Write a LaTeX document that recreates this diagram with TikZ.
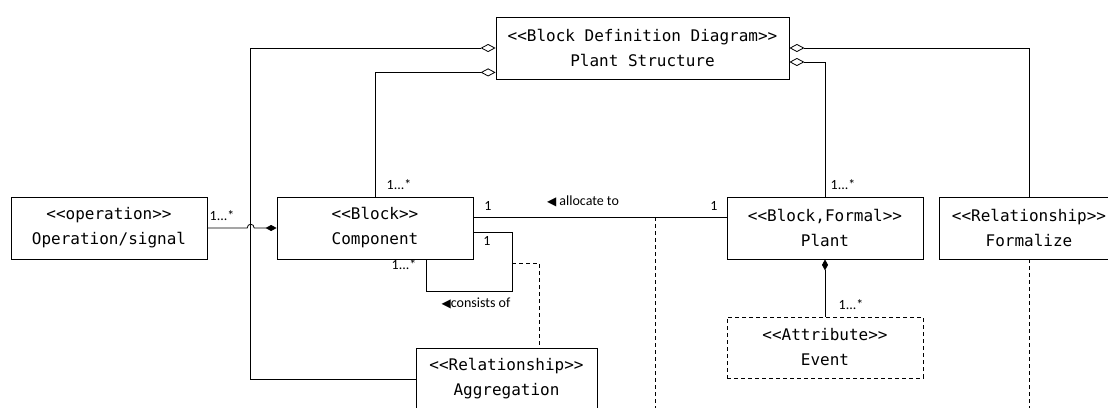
\documentclass[tikz,border=0pt]{standalone}
\usepackage{fontspec}
\setsansfont{Carlito}
\setmonofont{DejaVu Sans Mono}
\newfontfamily\symfont{DejaVu Sans}
\usetikzlibrary{arrows.meta,calc,positioning}

\begin{document}
\begin{tikzpicture}[x=1pt, y=-1pt,
    block/.style={draw, line width=0.8pt, minimum width=196pt, minimum height=62pt, align=center, inner sep=0pt, font=\ttfamily\fontsize{16}{25}\selectfont},
    attrbox/.style={block, dash pattern=on 4pt off 3pt},
    link/.style={line width=0.8pt},
    agg/.style={link, {Diamond[open,length=15pt,width=8pt]}-},
    compo/.style={link, -{Diamond[length=11pt,width=6pt]}},
    trace/.style={link, dash pattern=on 4pt off 3pt},
    mult/.style={inner sep=0pt, font=\sffamily\fontsize{14}{14}\selectfont}
]
\useasboundingbox (0,0) rectangle (1108,407);
\clip (0,0) rectangle (1108,407);

\node[block, minimum width=293pt] (plantstruct) at (642.5,48) {<<Block Definition Diagram>>\\Plant Structure};
\node[block] (operation) at (109,228) {<<operation>>\\Operation/signal};
\node[block] (component) at (375,228) {<<Block>>\\Component};
\node[block] (plant) at (825,228) {<<Block,Formal>>\\Plant};
\node[block, minimum width=180pt] (formalize) at (1029,228) {<<Relationship>>\\Formalize};
\node[attrbox, minimum height=61pt] (event) at (825,347.5) {<<Attribute>>\\Event};
\node[block, minimum width=181pt] (aggregation) at (506.5,379) {<<Relationship>>\\Aggregation};

% Aggregation Links
\coordinate (leftbend) at (250.7,379);
\draw[agg] (plantstruct.west) -| (leftbend) -- (aggregation.west);
\draw[agg] ([yshift=7pt]plantstruct.south west) -| (component.north);
\draw[agg] (plantstruct.east) -| (formalize.north);
\draw[agg] ([yshift=-14pt]plantstruct.east) -| (plant.north);

% Composition Links
\coordinate (hopin) at ($(leftbend |- operation.east)+(-3.5,0)$);
\coordinate (hopout) at ($(leftbend |- operation.east)+(3.5,0)$);
\draw[compo] (operation.east) -- (hopin) .. controls +(0,-5) and +(0,-5) .. (hopout) -- (component.west);
\draw[compo] (event.north) -- (plant.south);

% Allocate
\draw[link] ([yshift=11pt]component.east) -- ([yshift=11pt]plant.west);
\coordinate (alloctop) at (655,217);
\coordinate (allocbot) at (655,410);
\draw[trace] (alloctop) -- (allocbot);

% Consists of
\coordinate (loopcorner) at (512,291);
\draw[link] ([yshift=-4pt]component.east) -| (loopcorner) -| ([xshift=51pt]component.south);
\coordinate (loopside) at (512,263);
\draw[trace] (loopside) -| ([xshift=32.5pt]aggregation.north);

% Formalize
\draw[trace] (formalize.south) -- (formalize.south |- allocbot);

% Multiplicities
\node[mult] (mop) at (222,216) {1...*};
\node[mult] (mcomptop) at (399,185) {1...*};
\node[mult] (mcompalloc) at (488,206) {1};
\node[mult] (mplantalloc) at (714,206) {1};
\node[mult] (lalloc) at (583,201) {{\symfont\fontsize{12}{12}\selectfont ◀} allocate to};
\node[mult] (mplanttop) at (843,185) {1...*};
\node[mult] (mloopone) at (487,241) {1};
\node[mult] (mloopmany) at (404,265) {1...*};
\node[mult] (lconsists) at (476,303) {{\symfont\fontsize{12}{12}\selectfont ◀}consists of};
\node[mult] (mevent) at (851,305) {1...*};

\end{tikzpicture}
\end{document}
